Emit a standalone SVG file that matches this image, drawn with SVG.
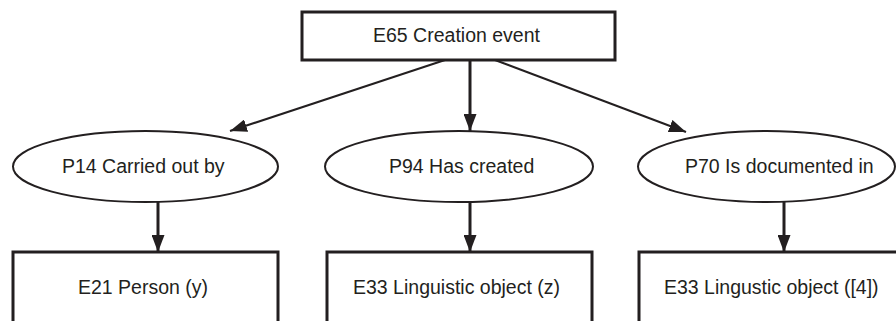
<svg xmlns="http://www.w3.org/2000/svg" width="896" height="321" viewBox="0 0 896 321">
  <defs>
    <style>
      .box { fill: #fff; stroke: #231f20; stroke-width: 3; }
      .prop { fill: #fff; stroke: #231f20; stroke-width: 2; }
      .lbl { font-family: "Liberation Sans", Arial, sans-serif; font-size: 19.5px; fill: #231f20; }
      .link { stroke: #231f20; fill: none; }
      .thick { stroke-width: 3; }
      .thin { stroke-width: 2; }
    </style>
    <marker id="head" viewBox="0 0 17 13" refX="17" refY="6.5" markerWidth="17" markerHeight="13" markerUnits="userSpaceOnUse" orient="auto">
      <path d="M0,0 L17,6.5 L0,13 Z" fill="#231f20"/>
    </marker>
  </defs>

  <rect x="0" y="0" width="896" height="321" fill="#fff"/>

  <!-- Connectors -->
  <g id="connectors">
    <line class="link thin" x1="445" y1="60" x2="230" y2="131" marker-end="url(#head)"/>
    <line class="link thick" x1="470" y1="60" x2="470" y2="131" marker-end="url(#head)"/>
    <line class="link thin" x1="495" y1="60" x2="686" y2="132" marker-end="url(#head)"/>
    <line class="link thick" x1="158" y1="202" x2="158" y2="252" marker-end="url(#head)"/>
    <line class="link thick" x1="470" y1="202" x2="470" y2="252" marker-end="url(#head)"/>
    <line class="link thick" x1="784" y1="202" x2="784" y2="252" marker-end="url(#head)"/>
  </g>

  <!-- Event -->
  <g id="e65">
    <rect class="box" x="302" y="12" width="313" height="48"/>
    <text class="lbl" x="373" y="41.5">E65 Creation event</text>
  </g>

  <!-- Properties -->
  <g id="p14">
    <ellipse class="prop" cx="145.5" cy="166.5" rx="132.5" ry="35.5"/>
    <text class="lbl" x="62" y="173">P14 Carried out by</text>
  </g>
  <g id="p94">
    <ellipse class="prop" cx="459" cy="166.5" rx="134" ry="35.5"/>
    <text class="lbl" x="389" y="173">P94 Has created</text>
  </g>
  <g id="p70">
    <ellipse class="prop" cx="766.5" cy="166.5" rx="128.5" ry="35.5"/>
    <text class="lbl" x="685" y="173">P70 Is documented in</text>
  </g>

  <!-- Entities -->
  <g id="e21">
    <rect class="box" x="13" y="252" width="265" height="80"/>
    <text class="lbl" x="78" y="294">E21 Person (y)</text>
  </g>
  <g id="e33-z">
    <rect class="box" x="327" y="252" width="265" height="80"/>
    <text class="lbl" x="353" y="294">E33 Linguistic object (z)</text>
  </g>
  <g id="e33-4">
    <rect class="box" x="639" y="252" width="265" height="80"/>
    <text class="lbl" x="664" y="294">E33 Lingustic object ([4])</text>
  </g>
</svg>
